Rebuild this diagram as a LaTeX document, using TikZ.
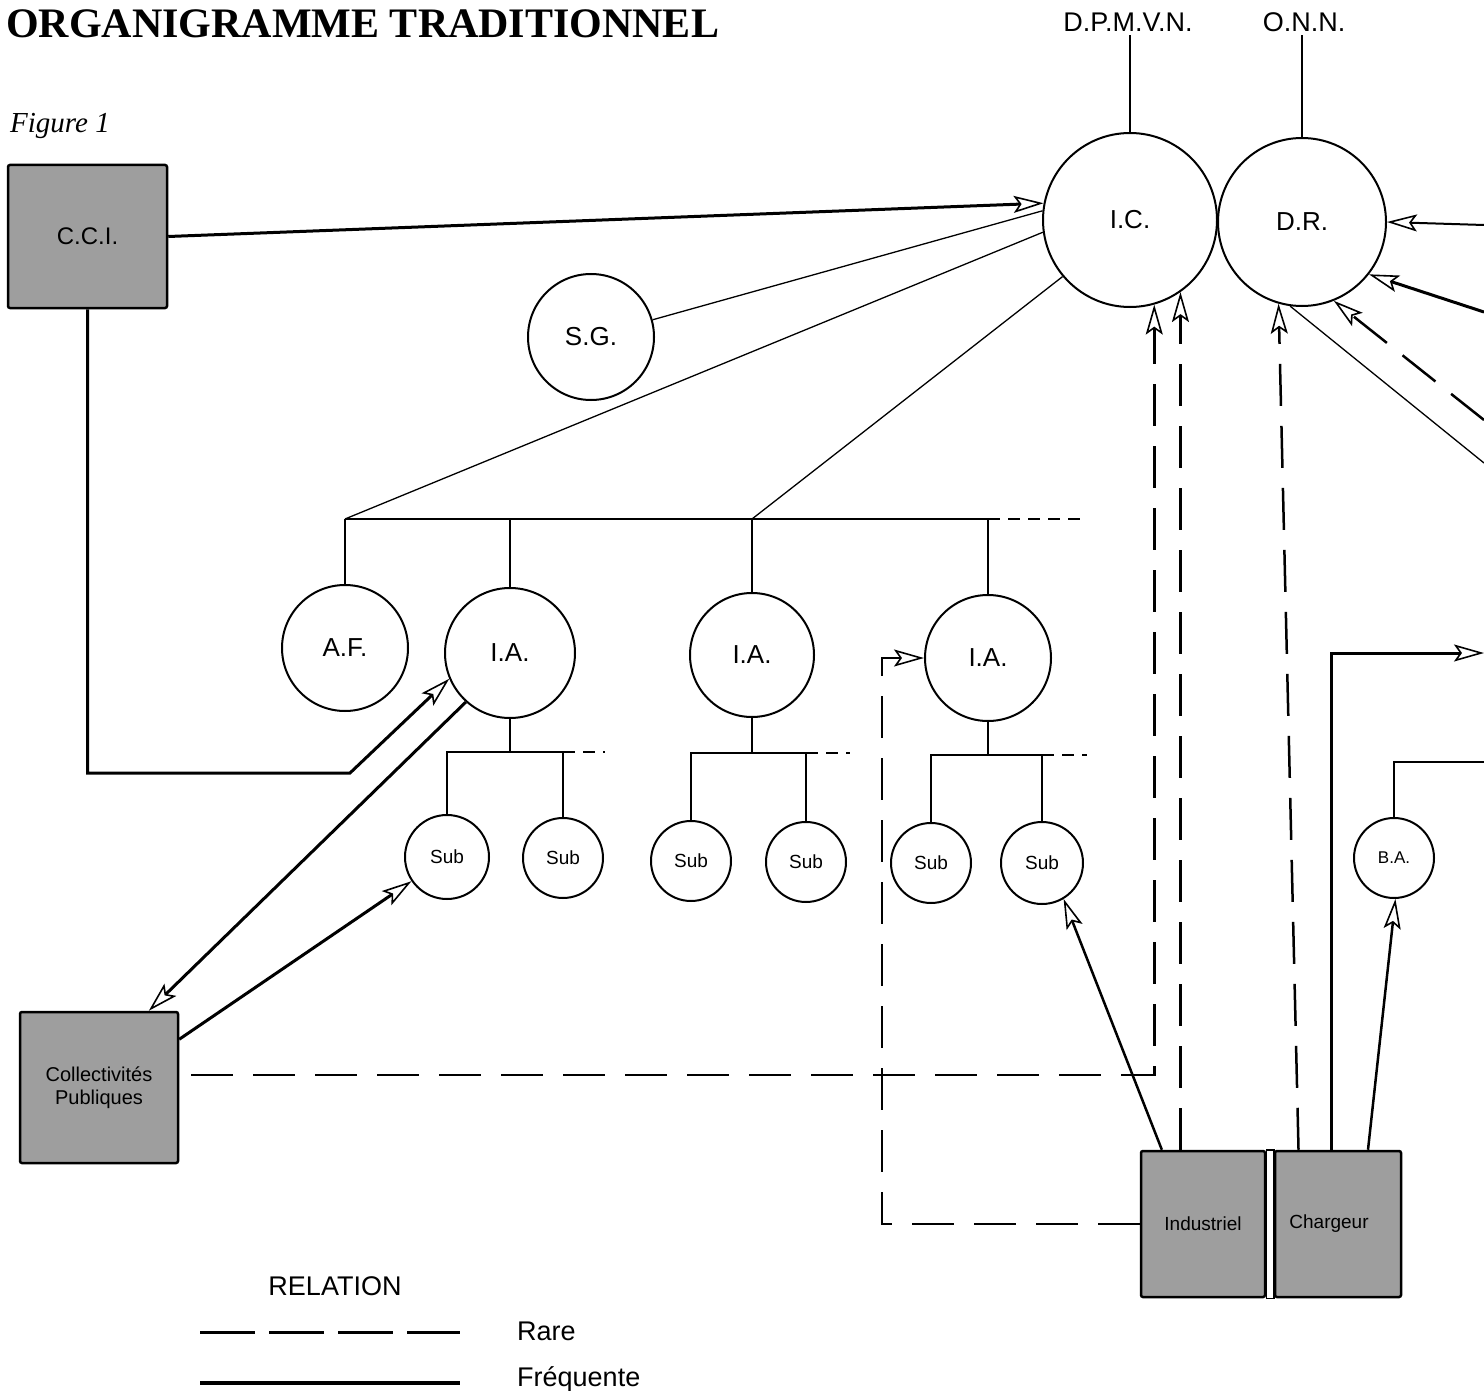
\documentclass[tikz,border=0pt]{standalone}
\usepackage{fontspec}
\setmainfont{Liberation Serif}
\setsansfont{Liberation Sans}
\usetikzlibrary{arrows.meta}
\tikzset{
  fs/.style={font=\sffamily\fontsize{#1}{#1}\selectfont},
  circ/.style={circle, draw, line width=2pt, inner sep=0pt, minimum size=#1, fs=26},
  subc/.style={circle, draw, line width=2pt, inner sep=0pt, minimum size=#1, fs=19},
  box/.style={rectangle, draw, line width=2.5pt, fill=black!38, rounded corners=2pt, inner sep=0pt, align=center},
  slim/.style={line width=1.3pt},
  mid/.style={line width=2pt},
  heavy/.style={line width=3pt},
  arr/.style={-{Stealth[open, length=30pt 0 0, width=17pt 0 0, inset=6pt 0 0, line width=1.6pt]}},
  rare/.style={dash pattern=on 42pt off 20pt, line width=2.5pt},
  minidash/.style={dash pattern=on 12pt off 8pt, line width=1.8pt},
  lbl/.style={inner sep=3pt},
}
\begin{document}
\begin{tikzpicture}[x=1pt,y=-1pt]
\useasboundingbox (0,0) rectangle (1484,1391);

% titles
\node[anchor=base west, inner sep=0pt, font=\bfseries\fontsize{42}{42}\selectfont] (title) at (6,38) {ORGANIGRAMME TRADITIONNEL};
\node[anchor=base west, inner sep=0pt, font=\itshape\fontsize{29}{29}\selectfont] (fig) at (10,133) {Figure 1};

% top labels
\node[lbl, fs=27, anchor=base] (DPMVN) at (1128,32) {D.P.M.V.N.};
\node[lbl, fs=27, anchor=base] (ONN) at (1304,32) {O.N.N.};

% circles
\node[circ=174pt] (IC) at (1130,220) {I.C.};
\node[circ=168pt] (DR) at (1302,222) {D.R.};
\node[circ=126pt] (SG) at (591,337) {S.G.};
\node[circ=126pt] (AF) at (345,648) {A.F.};
\node[circ=130pt] (IA1) at (510,653) {I.A.};
\node[circ=124pt] (IA2) at (752,655) {I.A.};
\node[circ=126pt] (IA3) at (988,658) {I.A.};
\node[subc=84pt] (Sub1) at (447,857) {Sub};
\node[subc=80pt] (Sub2) at (563,858) {Sub};
\node[subc=80pt] (Sub3) at (691,861) {Sub};
\node[subc=80pt] (Sub4) at (806,862) {Sub};
\node[subc=80pt] (Sub5) at (931,863) {Sub};
\node[subc=82pt] (Sub6) at (1042,863) {Sub};
\node[subc=80pt, fs=17] (BA) at (1394,858) {B.A.};

% boxes
\node[box, minimum width=159pt, minimum height=143pt, fs=24] (CCI) at (87.5,236.5) {C.C.I.};
\node[box, minimum width=158pt, minimum height=151pt, fs=20] (Coll) at (99,1087.5) {Collectivités\\[3pt]Publiques};
\node[box, minimum width=124pt, minimum height=146pt, fs=19] (Ind) at (1203,1224) {Industriel};
\node[box, minimum width=126pt, minimum height=146pt, fs=19] (Charg) at (1338,1224) {\hspace*{-18pt}Chargeur};
\draw[line width=1.5pt] (Ind.north east) rectangle (Charg.south west);

% coordinates
\coordinate (busL) at (345,519);
\coordinate (busA) at (510,519);
\coordinate (busM) at (752,519);
\coordinate (busR) at (988,519);
\coordinate (busE) at (1080,519);
\coordinate (j1) at (510,752);
\coordinate (j1e) at (605,752);
\coordinate (j2) at (752,753);
\coordinate (j2e) at (850,753);
\coordinate (j3) at (988,755);
\coordinate (j3e) at (1087,755);
\coordinate (c2) at (350,773);
\coordinate (k2) at (882,658);
\coordinate (cr) at (1484,653);
\coordinate (br) at (1484,762);
\coordinate (d1) at (1484,225);
\coordinate (d2) at (1484,312);
\coordinate (d3) at (1484,420);
\coordinate (d4) at (1484,463);

% top vertical lines
\draw[slim] (DPMVN.south -| IC.north) -- (IC.north);
\draw[slim] (ONN.south -| DR.north) -- (DR.north);

% hierarchy
\draw[slim] (SG) -- (IC.174);
\draw[slim] (IC.188) -- (busL);
\draw[slim] (IC.220) -- (busM);
\draw[slim] (busL) -- (busR);
\draw[minidash] (busR) -- (busE);
\draw[slim] (busL) -- (AF.north);
\draw[slim] (busA) -- (IA1.north);
\draw[slim] (busM) -- (IA2.north);
\draw[slim] (busR) -- (IA3.north);

\draw[slim] (IA1.south) -- (j1);
\draw[slim] (Sub1.north) -- (Sub1.north |- j1) -- (Sub2.north |- j1) -- (Sub2.north);
\draw[minidash, line width=1.5pt] (Sub2.north |- j1) -- (j1e);
\draw[slim] (IA2.south) -- (j2);
\draw[slim] (Sub3.north) -- (Sub3.north |- j2) -- (Sub4.north |- j2) -- (Sub4.north);
\draw[minidash, line width=1.5pt] (Sub4.north |- j2) -- (j2e);
\draw[slim] (IA3.south) -- (j3);
\draw[slim] (Sub5.north) -- (Sub5.north |- j3) -- (Sub6.north |- j3) -- (Sub6.north);
\draw[minidash, line width=1.5pt] (Sub6.north |- j3) -- (j3e);

\draw[slim] (BA.north) |- (br);

% relations
\draw[heavy, arr] (CCI.east) -- (IC.169);
\draw[heavy, arr] (CCI.south) |- (c2) -- (IA1.203);
\draw[heavy, arr] (IA1.228) -- (Coll.57);
\draw[heavy, arr] (Coll.31) -- (Sub1);
\draw[rare, arr, dash phase=-12pt] (Coll.9) -| (IC.286);
\draw[rare, arr] (IC.305 |- Ind.north) -- (IC.305);
\draw[heavy, line width=2.5pt, arr] (Ind.119) -- (Sub6.301);
\draw[rare, arr] (Charg.118) -- (DR.254);
\draw[heavy, arr] (Charg.95) |- (cr);
\draw[heavy, line width=2.5pt, arr] (Charg.68) -- (BA.272);
\draw[rare, arr] (Ind.west) -| (k2) -- (IA3.west);

\draw[mid, arr] (d1) -- (DR.east);
\draw[heavy, arr] (d2) -- (DR.322);
\draw[rare, arr] (d3) -- (DR.292);
\draw[slim] (DR.262) -- (d4);

% legend
\node[fs=27, anchor=base] (rel) at (335,1295) {RELATION};
\coordinate (r1) at (200,1332);
\coordinate (r2) at (460,1332);
\coordinate (f1) at (200,1383);
\coordinate (f2) at (460,1383);
\draw[line width=3pt, dash pattern=on 55pt off 14pt] (r1) -- (r2);
\draw[line width=3.5pt] (f1) -- (f2);
\node[fs=27, anchor=base west, inner sep=0pt] (rare) at (517,1340) {Rare};
\node[fs=27, anchor=base west, inner sep=0pt] (freq) at (517,1386) {Fréquente};
\end{tikzpicture}
\end{document}
